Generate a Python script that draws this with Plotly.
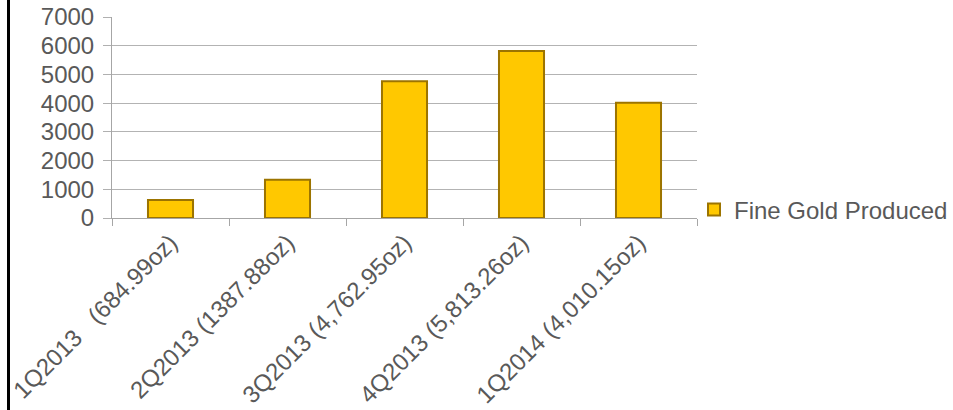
import plotly.graph_objects as go

categories = [
    "1Q2013\u00a0\u00a0 (684.99oz)",
    "2Q2013 (1387.88oz)",
    "3Q2013 (4,762.95oz)",
    "4Q2013 (5,813.26oz)",
    "1Q2014 (4,010.15oz)",
]
values = [630, 1330, 4763, 5813, 4010]
series_name = "Fine Gold Produced"
y_ticks = [0, 1000, 2000, 3000, 4000, 5000, 6000, 7000]

W, H = 953, 410
ML, MR, MT, MB = 112, 256, 17, 192
FONT = "Liberation Sans, Arial, sans-serif"
TXT = "#595959"
FS = 24

fig = go.Figure()
fig.add_trace(go.Bar(
    x=categories, y=values, name=series_name,
    marker=dict(color="#FFC800", line=dict(color="#9C7400", width=2)),
    width=0.385,
    showlegend=True,
))

fig.update_layout(
    width=W, height=H,
    margin=dict(l=ML, r=MR, t=MT, b=MB, pad=0, autoexpand=False),
    paper_bgcolor="white", plot_bgcolor="white",
    font=dict(family=FONT, size=FS, color=TXT),
    showlegend=True,
    legend=dict(
        x=(694 - ML) / (W - ML - MR), xanchor="left",
        y=(H - MB - 210) / (H - MB - MT), yanchor="middle",
        font=dict(family=FONT, size=FS, color=TXT),
        bgcolor="rgba(0,0,0,0)", borderwidth=0,
    ),
    xaxis=dict(
        type="category", automargin=False,
        showline=True, linecolor="#a6a6a6", linewidth=1,
        ticks="outside", ticklen=7, tickcolor="#a6a6a6",
        tickson="boundaries",
        tickangle=-45,
        tickfont=dict(family=FONT, size=FS, color=TXT),
        showgrid=False,
    ),
    yaxis=dict(
        range=[0, 7000], automargin=False,
        tickvals=y_ticks,
        showline=True, linecolor="#a6a6a6", linewidth=1,
        ticks="outside", ticklen=8, tickcolor="#b0b0b0",
        showgrid=True, gridcolor="#b3b3b3", gridwidth=1,
        zeroline=False,
        ticklabelstandoff=4,
        tickfont=dict(family=FONT, size=FS, color=TXT),
    ),
    shapes=[dict(
        type="line", xref="paper", yref="paper",
        xsizemode="pixel", xanchor=0,
        x0=8.5 - ML, x1=8.5 - ML,
        ysizemode="pixel", yanchor=0,
        y0=-MB, y1=H - MB,
        line=dict(color="black", width=3),
    )],
)

fig.write_html("out.html")
